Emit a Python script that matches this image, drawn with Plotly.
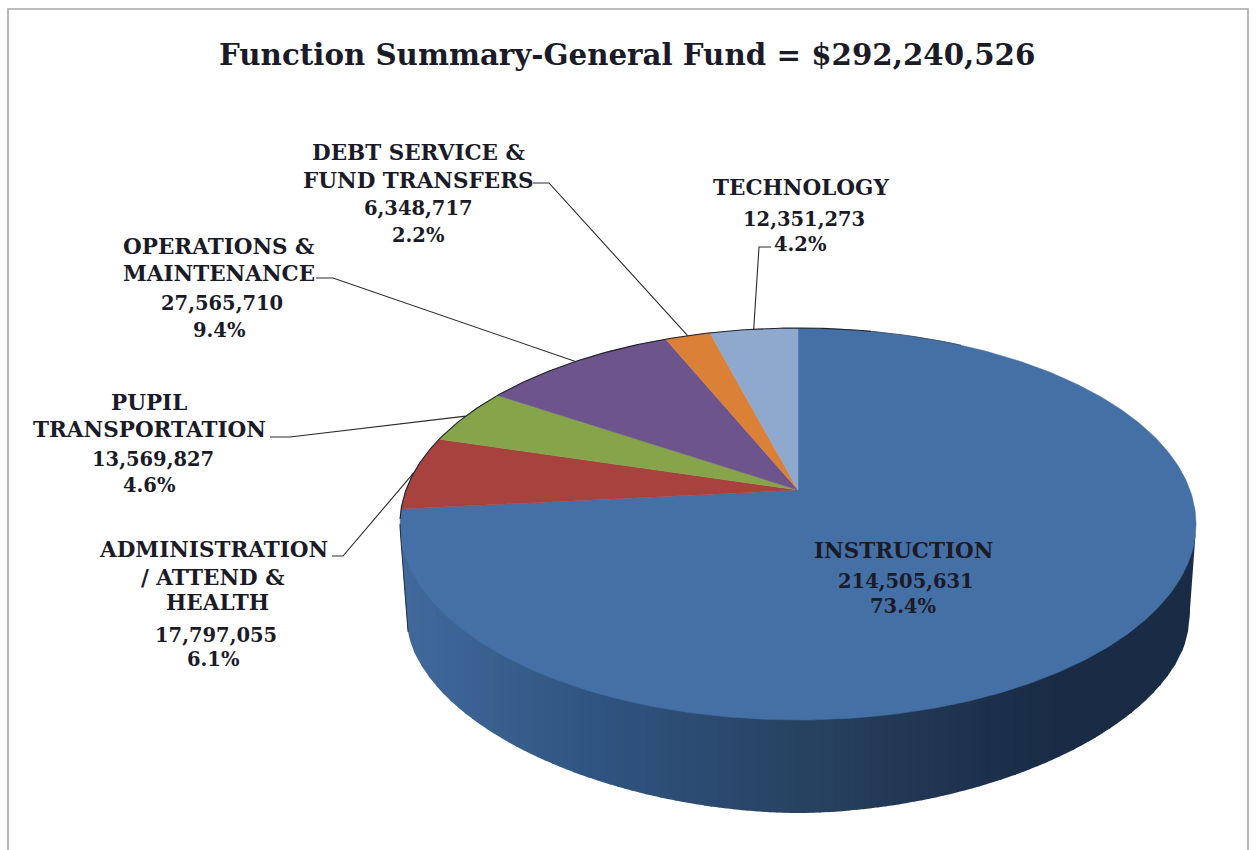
import numpy as np
import plotly.graph_objects as go

# ---- data ----
categories = ["INSTRUCTION", "ADMINISTRATION / ATTEND & HEALTH", "PUPIL TRANSPORTATION",
              "OPERATIONS & MAINTENANCE", "DEBT SERVICE & FUND TRANSFERS", "TECHNOLOGY"]
values = [214505631, 17797055, 13569827, 27565710, 6348717, 12351273]
fund_total = 292240526
label_lines = [["INSTRUCTION"], ["ADMINISTRATION", "/ ATTEND &", "HEALTH"], ["PUPIL", "TRANSPORTATION"],
               ["OPERATIONS &", "MAINTENANCE"], ["DEBT SERVICE &", "FUND TRANSFERS"], ["TECHNOLOGY"]]
title_text = f"Function Summary-General Fund = ${fund_total:,}"

# ---- style / layout ----
colors = ["#4570A6", "#A8423F", "#86A44A", "#6E548D", "#DA8137", "#8FA8CD"]
FONT = "DejaVu Serif"
INK = "#1B1B28"
W, H = 1257, 850
CX, CY0 = 798.0, 490.0          # apex of the pie on the page
A, B, P = 392.0, 190.1, 0.1735  # perspective projection of the disc
TOP = dict(cx=798.0, cy=524.0, rx=398.0, ry=196.0)
BOT = dict(cx=798.0, cy=621.0, rx=391.0, ry=192.0, n=1.85)
# centre x and y of each text line per slice (name lines, value, percent)
label_pos = [
    [(903, 550), (906, 581), (903, 606)],
    [(213, 549), (213, 577), (217, 602), (216, 635), (213, 659)],
    [(149, 402), (149, 429), (153, 459), (149, 485)],
    [(219, 246), (219, 273), (222, 303), (219, 330)],
    [(418, 152), (418, 180), (418, 208), (418, 235)],
    [(801, 187), (804, 219), (800, 244)],
]
# leader: text-end, elbow (the rim end is computed from the slice)
leaders = [None, [(332, 556), (343, 556)], [(270, 437), (290, 437)],
           [(316, 278), (333, 278)], [(533, 183), (549, 183)], [(771, 247), (759, 247)]]


def rim(theta):
    u, v = np.sin(theta), np.cos(theta)
    w = 1 + P * v
    return CX + A * u / w, CY0 - B * v / w


fig = go.Figure()
plain = dict(mode="lines", hoverinfo="skip", showlegend=False)

# ---- side wall: hull of top and bottom rims, shaded left to right
t = np.linspace(0, 2 * np.pi, 1441)
c_, s_ = np.cos(t), np.sin(t)
bx = BOT["cx"] + BOT["rx"] * np.sign(c_) * np.abs(c_) ** (2 / BOT["n"])
by = BOT["cy"] + BOT["ry"] * np.sign(s_) * np.abs(s_) ** (2 / BOT["n"])
hx = np.r_[TOP["cx"] + TOP["rx"] * c_, bx]
hy = np.r_[TOP["cy"] + TOP["ry"] * s_, by]
order = np.lexsort((hy, hx))
low = []
for x, y in zip(hx[order], hy[order]):
    while len(low) >= 2 and (low[-1][0] - low[-2][0]) * (y - low[-2][1]) - (low[-1][1] - low[-2][1]) * (x - low[-2][0]) >= 0:
        low.pop()
    low.append((x, y))
low = np.array(low)

grad_x = [400, 600, 800, 1000, 1060, 1200]
grad_r = [0x41, 0x30, 0x28, 0x1C, 0x1A, 0x1A]
grad_g = [0x6A, 0x54, 0x43, 0x30, 0x2C, 0x2C]
grad_b = [0x9C, 0x81, 0x62, 0x4B, 0x45, 0x45]

edges = np.linspace(TOP["cx"] - TOP["rx"], TOP["cx"] + TOP["rx"], 111)
for a, b in zip(edges[:-1], edges[1:]):
    xs = np.linspace(a, b + 1.0, 6)
    xs = np.clip(xs, edges[0], edges[-1])
    upper = TOP["cy"] + TOP["ry"] * np.sqrt(np.clip(1 - ((xs - TOP["cx"]) / TOP["rx"]) ** 2, 0, 1)) - 2
    lower = np.interp(xs, low[:, 0], low[:, 1])
    m = (a + b) / 2
    col = "rgb(%d,%d,%d)" % (np.interp(m, grad_x, grad_r), np.interp(m, grad_x, grad_g), np.interp(m, grad_x, grad_b))
    fig.add_trace(go.Scatter(x=np.r_[xs, xs[::-1]], y=np.r_[upper, lower[::-1]], fill="toself",
                             fillcolor=col, line=dict(width=0, color=col), **plain))

# ---- top of the pie
total = sum(values)
cum = np.cumsum([0] + values) / total * 2 * np.pi
for i in range(len(values)):
    th = np.linspace(cum[i], cum[i + 1], max(3, int((cum[i + 1] - cum[i]) * 90)))
    rx_, ry_ = rim(th)
    fig.add_trace(go.Scatter(x=np.r_[CX, rx_, CX], y=np.r_[CY0, ry_, CY0], fill="toself",
                             fillcolor=colors[i], line=dict(width=0.5, color=colors[i]), name=categories[i], **plain))

# dark rim along the upper left edge, fading toward the right
th = np.linspace(cum[1] - 0.05, 2 * np.pi + 0.22, 200)
rx_, ry_ = rim(th)
fig.add_trace(go.Scatter(x=rx_, y=ry_, line=dict(width=1.1, color="#20242E"), **plain))
th = np.linspace(2 * np.pi + 0.22, 2 * np.pi + 0.5, 40)
rx_, ry_ = rim(th)
fig.add_trace(go.Scatter(x=rx_, y=ry_, line=dict(width=0.8, color="#3A4A62"), **plain))

# dark edge down the left of the wall
left_part = low[low[:, 0] < BOT["cx"] - 300]
edge_y = np.linspace(TOP["cy"], 632, 30)
edge_x = np.interp(edge_y, left_part[:, 1], left_part[:, 0])
fig.add_trace(go.Scatter(x=edge_x, y=edge_y, line=dict(width=1.0, color="#20304A"), **plain))

# ---- leaders
for i, ld in enumerate(leaders):
    if ld is None:
        continue
    ex, ey = rim((cum[i] + cum[i + 1]) / 2)
    fig.add_trace(go.Scatter(x=[ld[0][0], ld[1][0], float(ex)], y=[ld[0][1], ld[1][1], float(ey)],
                             line=dict(width=1.1, color="#2A2A2A"), **plain))

# ---- labels
annotations = []
for i, pos in enumerate(label_pos):
    n = len(label_lines[i])
    lines = label_lines[i] + [f"{values[i]:,}", f"{values[i] / fund_total * 100:.1f}%"]
    for k, (text, (x, y)) in enumerate(zip(lines, pos)):
        annotations.append(dict(x=x, y=y, xref="x", yref="y", text=text, showarrow=False,
                                xanchor="center", yanchor="middle",
                                font=dict(family=FONT, size=21.5 if k < n else 19.5, color=INK, weight="bold")))
annotations.append(dict(x=627, y=54, xref="x", yref="y", text=title_text, showarrow=False,
                        xanchor="center", yanchor="middle",
                        font=dict(family=FONT, size=29.3, color=INK, weight="bold")))

# ---- frame
frame_x = [8, 8, 1248, 1248]
frame_y = [850, 9, 9, 850]
fig.add_trace(go.Scatter(x=frame_x, y=frame_y, line=dict(width=1.6, color="#A6A6A6"), **plain))

fig.update_layout(width=W, height=H, margin=dict(l=0, r=0, t=0, b=0),
                  paper_bgcolor="white", plot_bgcolor="white", annotations=annotations,
                  xaxis=dict(range=[0, W], visible=False, fixedrange=True),
                  yaxis=dict(range=[H, 0], visible=False, fixedrange=True))
fig.write_html("out.html", config=dict(displayModeBar=False),
               post_script="document.body.style.margin='0';document.body.style.overflow='hidden';")
